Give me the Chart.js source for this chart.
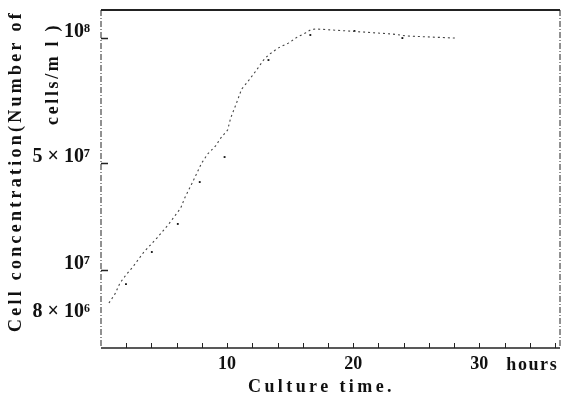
<!DOCTYPE html>
<html>
<head>
<meta charset="utf-8">
<script src="https://cdn.jsdelivr.net/npm/chart.js@4/dist/chart.umd.min.js"></script>
<style>
  html, body { margin: 0; padding: 0; background: #fff; }
  #wrap { width: 564px; height: 397px; }
</style>
</head>
<body>
<div id="wrap"><canvas id="c" width="564" height="397"></canvas></div>
<script>
// ---- data (y values are in the figure's own vertical axis units 0..100) ----
const lineHours  = [0.63,1.11,1.5,1.98,2.53,3.4,4.43,5.38,6.32,6.64,7.27,7.98,8.46,9.09,9.49,10.04,10.28,10.75,11.15,11.62,12.33,12.89,13.28,14.07,14.86,15.57,16.21,16.6,17.0,19.53,23.08,24.27,28.06];
const lineLevel  = [13.3,16.0,19.2,21.6,24.0,28.4,32.5,36.7,41.4,44.4,49.1,54.7,57.4,59.8,62.1,64.5,68.0,72.5,76.6,78.7,82.2,85.2,86.7,88.8,90.2,92.0,93.2,94.1,94.4,93.8,92.9,92.3,91.7];
const markerHours = [1.98,4.03,6.09,7.83,9.8,13.28,16.6,20.1,23.9];
const markerLevel = [18.9,28.4,36.7,49.1,56.5,85.2,92.6,93.8,91.7];
const yTickValues = [8.9, 23.1, 54.7, 91.7];
const yTickLabels = ['8 \u00d7 10\u2076', '10\u2077', '5 \u00d7 10\u2077', '10\u2078'];
const xLabeledTicks = [10, 20, 30];
const xUnitLabel = 'hours';
const xTitle = 'Culture time.';
const yTitleLines = ['Cell concentration(Number of', 'cells/m l )'];

const SERIF = '"Liberation Serif", "DejaVu Serif", serif';

function spacedText(ctx, text, x, y, targetWidth) {
  ctx.letterSpacing = '0px';
  const w = ctx.measureText(text).width;
  const n = text.length;
  const sp = Math.max(0, (targetWidth - w) / n);
  ctx.letterSpacing = sp.toFixed(2) + 'px';
  ctx.fillText(text, x, y);
  ctx.letterSpacing = '0px';
}

const decor = {
  id: 'decor',
  afterDraw(chart) {
    const ctx = chart.ctx;
    const a = chart.chartArea;
    const xs = chart.scales.x, ys = chart.scales.y;
    ctx.save();
    // frame
    ctx.strokeStyle = '#222';
    ctx.lineWidth = 1.3;
    ctx.beginPath();
    ctx.moveTo(a.left, a.bottom); ctx.lineTo(a.right, a.bottom);
    ctx.stroke();
    ctx.lineWidth = 2;
    ctx.beginPath();
    ctx.moveTo(a.left, a.top); ctx.lineTo(a.right, a.top);
    ctx.stroke();
    ctx.lineWidth = 1;
    ctx.setLineDash([6, 2, 1, 2]);
    ctx.beginPath();
    ctx.moveTo(a.left, a.top); ctx.lineTo(a.left, a.bottom);
    ctx.moveTo(a.right, a.top); ctx.lineTo(a.right, a.bottom);
    ctx.stroke();
    ctx.setLineDash([]);
    // x tick marks every 2 hours (pointing up)
    ctx.lineWidth = 1;
    ctx.beginPath();
    for (let h = 2; h <= xs.max; h += 2) {
      const px = Math.round(xs.getPixelForValue(h)) + 0.5;
      ctx.moveTo(px, a.bottom); ctx.lineTo(px, a.bottom - 5);
    }
    ctx.stroke();
    // y tick marks (pointing right)
    ctx.lineWidth = 1.5;
    ctx.beginPath();
    yTickValues.slice(1).forEach(v => {
      const py = Math.round(ys.getPixelForValue(v)) + 0.5;
      ctx.moveTo(a.left, py); ctx.lineTo(a.left + 7, py);
    });
    ctx.stroke();
    // x unit label
    ctx.fillStyle = '#111';
    ctx.font = 'bold 18px ' + SERIF;
    ctx.textAlign = 'left';
    ctx.textBaseline = 'alphabetic';
    const p30 = xs.getPixelForValue(30);
    spacedText(ctx, xUnitLabel, p30 + 27, 370, 52);
    // x title
    ctx.font = 'bold 18px ' + SERIF;
    spacedText(ctx, xTitle, 248, 392, 147);
    // y title (two rotated lines)
    ctx.font = 'bold 18px ' + SERIF;
    ctx.textAlign = 'left';
    ctx.save();
    ctx.translate(21, 332);
    ctx.rotate(-Math.PI / 2);
    spacedText(ctx, yTitleLines[0], 0, 0, 322);
    ctx.restore();
    ctx.save();
    ctx.translate(58, 125);
    ctx.rotate(-Math.PI / 2);
    spacedText(ctx, yTitleLines[1], 0, 0, 102);
    ctx.restore();
    ctx.restore();
  }
};

new Chart(document.getElementById('c'), {
  type: 'scatter',
  data: {
    datasets: [
      {
        data: lineHours.map((h, i) => ({ x: h, y: lineLevel[i] })),
        showLine: true,
        borderColor: '#444',
        borderWidth: 1.1,
        borderDash: [2, 3],
        pointRadius: 0,
        tension: 0
      },
      {
        data: markerHours.map((h, i) => ({ x: h, y: markerLevel[i] })),
        showLine: false,
        pointStyle: 'rect',
        pointRadius: 1.3,
        backgroundColor: '#111',
        borderColor: '#111',
        borderWidth: 0
      }
    ]
  },
  options: {
    responsive: false,
    animation: false,
    events: [],
    layout: { padding: { top: 10, right: 4, left: 0, bottom: 0 } },
    plugins: { legend: { display: false }, tooltip: { enabled: false }, title: { display: false } },
    scales: {
      x: {
        type: 'linear',
        min: 0,
        max: 36.4,
        grid: { display: false },
        border: { display: false },
        afterBuildTicks: s => { s.ticks = xLabeledTicks.map(v => ({ value: v })); },
        ticks: {
          autoSkip: false,
          maxRotation: 0,
          padding: -2,
          color: '#111',
          font: { family: SERIF, size: 18, weight: 'bold' },
          callback: v => String(v)
        },
        afterFit: s => { s.height = 49; s.paddingLeft = 0; s.paddingRight = 0; }
      },
      y: {
        type: 'linear',
        min: 0,
        max: 100,
        grid: { display: false },
        border: { display: false },
        afterBuildTicks: s => { s.ticks = yTickValues.map(v => ({ value: v })); },
        ticks: {
          autoSkip: false,
          padding: 3,
          labelOffset: -6,
          color: '#111',
          font: { family: SERIF, size: 20, weight: 'bold' },
          callback: (v, i) => yTickLabels[i]
        },
        afterFit: s => { s.width = 101; s.paddingTop = 0; s.paddingBottom = 0; }
      }
    }
  },
  plugins: [decor]
});
</script>
</body>
</html>
